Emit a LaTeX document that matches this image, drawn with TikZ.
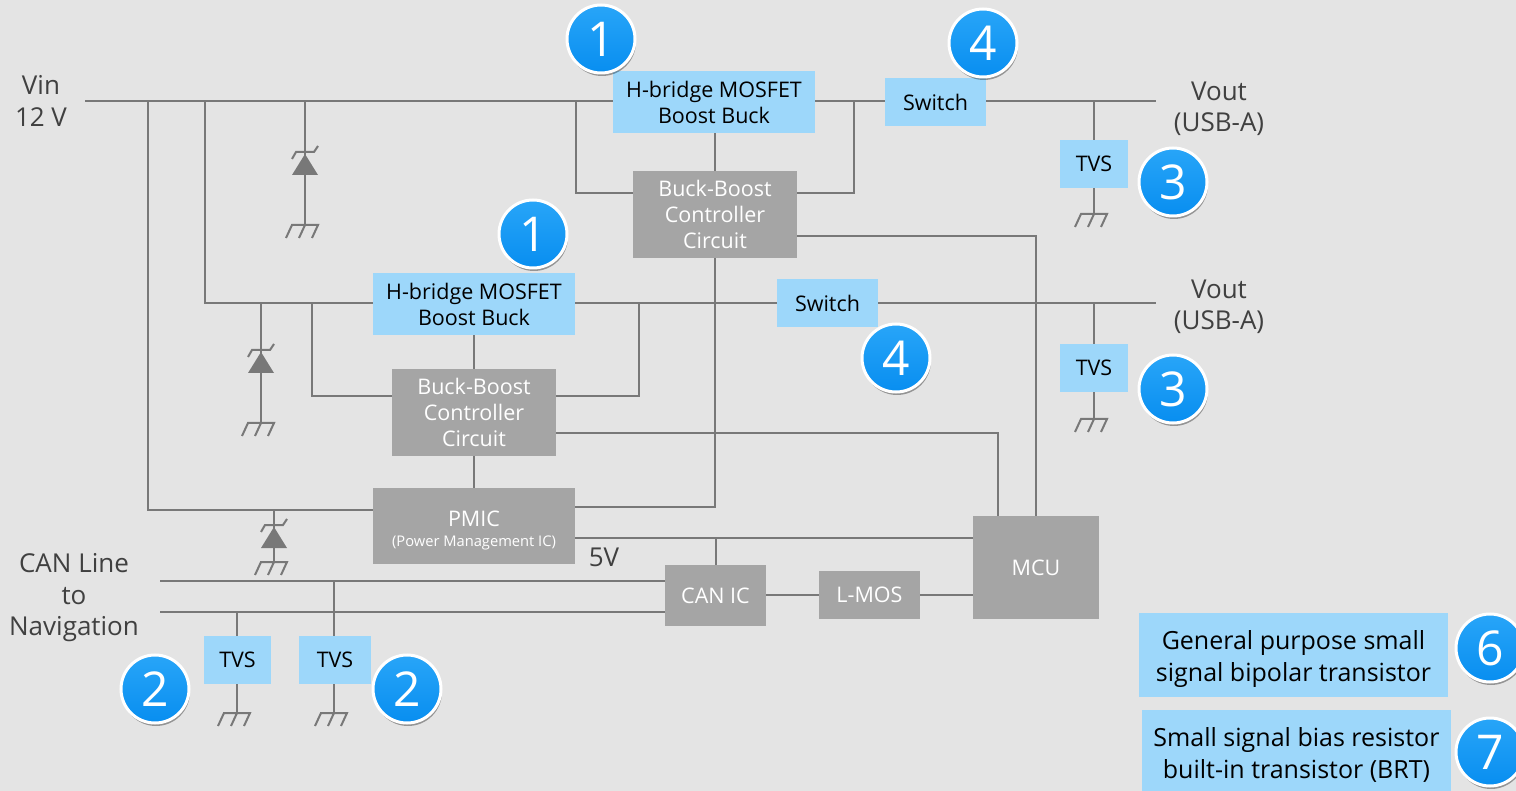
\documentclass[tikz,border=0pt]{standalone}
\usepackage{xcolor}
\usepackage{fontspec}
\setmainfont{Open Sans}
\usetikzlibrary{shadows, calc}
\definecolor{bgpanel}{RGB}{228,228,228}
\definecolor{wiregray}{RGB}{120,120,120}
\definecolor{icgray}{RGB}{165,165,165}
\definecolor{partblue}{RGB}{157,215,250}
\definecolor{badgetop}{RGB}{40,165,248}
\definecolor{badgebot}{RGB}{8,142,240}
\tikzset{
    partbox/.style={fill=partblue, text=black, inner sep=0pt, align=center, font=\fontsize{21.5}{26}\selectfont},
    icbox/.style={fill=icgray, text=white, inner sep=0pt, align=center, font=\fontsize{21.5}{26}\selectfont},
    legendbox/.style={fill=partblue, text=black, inner sep=0pt, align=center, font=\fontsize{25}{32}\selectfont},
    plainlabel/.style={text=black!75, inner sep=0pt, align=center, font=\fontsize{26}{31.5}\selectfont},
    badge/.style={circle, draw=white, line width=3pt, minimum size=68pt, inner sep=0pt, top color=badgetop, bottom color=badgebot, text=white, font=\fontsize{48}{48}\selectfont, drop shadow={shadow xshift=1pt, shadow yshift=-3pt, fill=black, opacity=0.35}},
    wire/.style={draw=wiregray, line width=2pt},
    gnd/.pic={
        \draw[wiregray, line width=2pt] (-19,13) -- (-13,0) -- (13,0) -- (7,13) (0,0) -- (-6,13);
    },
    zener/.pic={
        \fill[wiregray] (0,0) -- (-13,21) -- (13,21) -- cycle;
        \draw[wiregray, line width=2pt] (-13,5) -- (-9,-2) -- (9,-2) -- (13,-8);
    }
}
\begin{document}
\begin{tikzpicture}[x=1pt, y=-1pt]
\useasboundingbox[fill=bgpanel] (0,0) rectangle (1516,791);

% parts
\node[partbox, minimum width=202pt, minimum height=62pt] (hbridgetop) at (714,102) {H-bridge MOSFET\\Boost Buck};
\node[partbox, minimum width=101pt, minimum height=48pt] (switchtop) at (935.5,102) {Switch};
\node[partbox, minimum width=68pt, minimum height=48pt] (tvstop) at (1094,164) {TVS};
\node[icbox, minimum width=164pt, minimum height=87pt] (ctrltop) at (715,214.5) {Buck-Boost\\Controller\\Circuit};
\node[partbox, minimum width=202pt, minimum height=62pt] (hbridgelow) at (474,304) {H-bridge MOSFET\\Boost Buck};
\node[partbox, minimum width=101pt, minimum height=48pt] (switchlow) at (827.5,303) {Switch};
\node[partbox, minimum width=68pt, minimum height=48pt] (tvslow) at (1094,368) {TVS};
\node[icbox, minimum width=164pt, minimum height=87pt] (ctrllow) at (474,412.5) {Buck-Boost\\Controller\\Circuit};
\node[icbox, minimum width=202pt, minimum height=76pt] (pmic) at (474,526) {\rule{0pt}{24pt}PMIC\\[-6pt]{\fontsize{14.7}{15}\selectfont (Power Management IC)}};
\node[icbox, minimum width=126pt, minimum height=103pt] (mcu) at (1036,567.5) {MCU};
\node[icbox, minimum width=101pt, minimum height=61pt] (canic) at (715.5,595.5) {CAN IC};
\node[icbox, minimum width=101pt, minimum height=48pt] (lmos) at (869.5,595) {L-MOS};
\node[partbox, minimum width=67pt, minimum height=48pt] (tvscana) at (237.5,660) {TVS};
\node[partbox, minimum width=72pt, minimum height=48pt] (tvscanb) at (335,660) {TVS};
\node[legendbox, minimum width=309pt, minimum height=84pt] (legendsix) at (1293.5,655) {\rule{0pt}{27pt}General purpose small\\signal bipolar transistor};
\node[legendbox, minimum width=309pt, minimum height=81pt] (legendseven) at (1296.5,750.5) {\rule{0pt}{27pt}Small signal bias resistor\\built-in transistor (BRT)};

% labels
\node[plainlabel] (vinlabel) at (41,101) {Vin\\12 V};
\node[plainlabel] (vouttop) at (1219,109) {Vout\\(USB-A)};
\node[plainlabel] (voutlow) at (1219,307) {Vout\\(USB-A)};
\node[plainlabel] (canlabel) at (74,598) {CAN Line\\to\\Navigation};
\node[plainlabel] (fivev) at (604,557) {5V};

% rail points
\coordinate (vinstart) at (85,101.5);
\coordinate (tapvina) at (148,101.5);
\coordinate (tapvinb) at (205,101.5);
\coordinate (tapzenera) at (305,101.5);
\coordinate (tapbucka) at (576,101.5);
\coordinate (tapbuckb) at (854,101.5);
\coordinate (taptvstop) at (1094,101.5);
\coordinate (railtopend) at (1156,101.5);
\coordinate (lowstart) at (205,303.5);
\coordinate (tapzenerb) at (261,303.5);
\coordinate (tapbuckc) at (312,303.5);
\coordinate (tapbuckd) at (639,303.5);
\coordinate (taptvslow) at (1094,303.5);
\coordinate (raillowend) at (1156,303.5);
\coordinate (tapzenerc) at (274,510);
\coordinate (cantopstart) at (160,581);
\coordinate (canlowstart) at (160,612);
\coordinate (tapcana) at (237,612);
\coordinate (tapcanb) at (334,581);
\coordinate (gndzenera) at (305,225);
\coordinate (gndzenerb) at (261,423);
\coordinate (gndzenerc) at (274,562);
\coordinate (gndtvstop) at (1094,214);
\coordinate (gndtvslow) at (1094,419);
\coordinate (gndcana) at (237,713);
\coordinate (gndcanb) at (334,713);

% connectors
\draw[wire] (vinstart) -- (hbridgetop.west |- vinstart);
\draw[wire] (hbridgetop.east |- vinstart) -- (switchtop.west |- vinstart);
\draw[wire] (switchtop.east |- vinstart) -- (railtopend);
\draw[wire] (tapvina) |- ([yshift=16pt]pmic.west);
\draw[wire] (tapvinb) |- (hbridgelow.west |- lowstart);
\draw[wire] (hbridgelow.east |- lowstart) -- (switchlow.west |- lowstart);
\draw[wire] (switchlow.east |- lowstart) -- (raillowend);
\draw[wire] (tapbucka) |- ([yshift=21.5pt]ctrltop.west);
\draw[wire] (tapbuckb) |- ([yshift=21.5pt]ctrltop.east);
\draw[wire] (hbridgetop.south -| ctrltop) -- (ctrltop);
\draw[wire] ([yshift=-21.5pt]ctrltop.east) -| (mcu.north -| 1036,0);
\draw[wire] (ctrltop) |- ([yshift=19pt]pmic.east);
\draw[wire] (tapbuckc) |- ([yshift=16.5pt]ctrllow.west);
\draw[wire] (tapbuckd) |- ([yshift=16.5pt]ctrllow.east);
\draw[wire] (hbridgelow) -- (ctrllow);
\draw[wire] (ctrllow) -- (pmic);
\draw[wire] ([yshift=-20.5pt]ctrllow.east) -| (mcu.north -| 998,0);
\draw[wire] ([yshift=-12pt]pmic.east) -- ([yshift=29.5pt]mcu.west);
\draw[wire] (canic.north) -- (canic.north |- 0,538);
\draw[wire] (cantopstart) -- (canic.west |- cantopstart);
\draw[wire] (canlowstart) -- (canic.west |- canlowstart);
\draw[wire] (canic.east |- lmos) -- (lmos);
\draw[wire] (lmos) -- (lmos -| mcu.west);
\draw[wire] (tapzenera) -- (gndzenera);
\draw[wire] (tapzenerb) -- (gndzenerb);
\draw[wire] (tapzenerc) -- (gndzenerc);
\draw[wire] (taptvstop) -- (tvstop);
\draw[wire] (tvstop) -- (gndtvstop);
\draw[wire] (taptvslow) -- (tvslow);
\draw[wire] (tvslow) -- (gndtvslow);
\draw[wire] (tapcana) -- (tvscana.north -| tapcana);
\draw[wire] (tvscana.south -| gndcana) -- (gndcana);
\draw[wire] (tapcanb) -- (tvscanb.north -| tapcanb);
\draw[wire] (tvscanb.south -| gndcanb) -- (gndcanb);

% symbols
\pic at (305,154) {zener};
\pic at (261,352) {zener};
\pic at (274,527) {zener};
\pic at (gndzenera) {gnd};
\pic at (gndzenerb) {gnd};
\pic at (gndzenerc) {gnd};
\pic at (gndtvstop) {gnd};
\pic at (gndtvslow) {gnd};
\pic at (gndcana) {gnd};
\pic at (gndcanb) {gnd};

% badges
\node[badge] (badgeonea) at (601,39) {1};
\node[badge] (badgeoneb) at (533,234) {1};
\node[badge] (badgefoura) at (983,43) {4};
\node[badge] (badgefourb) at (896,358) {4};
\node[badge] (badgethreea) at (1173,182) {3};
\node[badge] (badgethreeb) at (1173,389) {3};
\node[badge] (badgetwoa) at (155,689) {2};
\node[badge] (badgetwob) at (407,689) {2};
\node[badge] (badgesix) at (1490,648) {6};
\node[badge] (badgeseven) at (1490,752) {7};
\end{tikzpicture}
\end{document}
